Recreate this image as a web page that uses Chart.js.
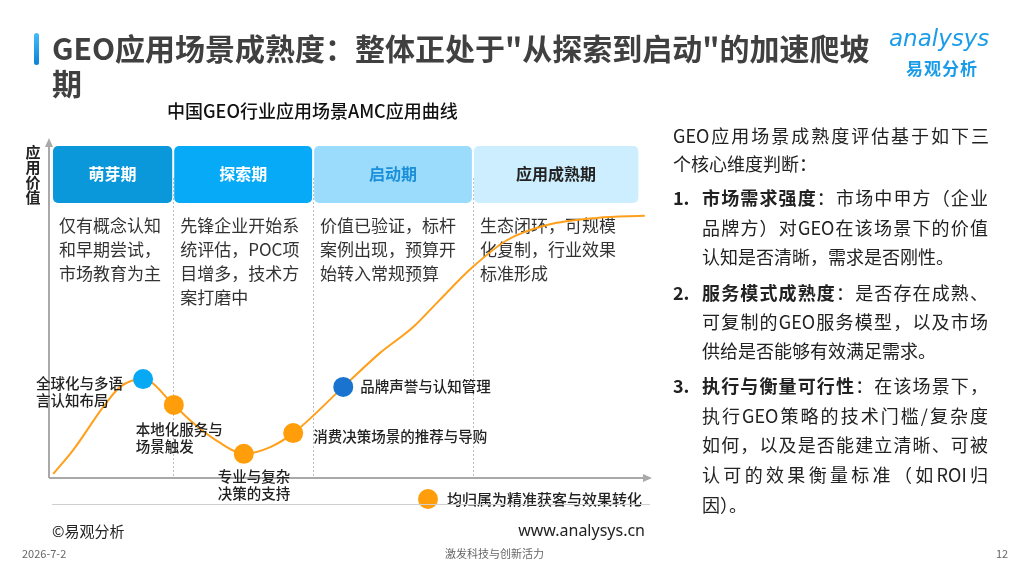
<!DOCTYPE html>
<html>
<head>
<meta charset="utf-8">
<script src="https://cdn.jsdelivr.net/npm/chart.js@4.4.1/dist/chart.umd.min.js"></script>
<style>
body { margin: 0; width: 1024px; height: 576px; overflow: hidden; background: #fff;
  font-family: "Noto Sans CJK SC", "Noto Sans", sans-serif; position: relative; color: #222; }
#wrap { position: absolute; left: 0; top: 0; width: 1024px; height: 576px; }
.abs { position: absolute; white-space: nowrap; }
#bar { left: 34px; top: 33px; width: 5px; height: 32px; border-radius: 3px;
  background: linear-gradient(#45bdf7, #0a82d8); }
#title { left: 52px; top: 30px; font-size: 30px; font-weight: bold; line-height: 35px; color: #404040; }
#sub { left: 167px; top: 97px; font-size: 18px; font-weight: 500; color: #111; }
#logo1 { left: 889px; top: 25px; font-size: 23px; font-style: italic; color: #1b9ce8; font-family: "DejaVu Sans", sans-serif; letter-spacing: 0px; }
#logo2 { left: 906px; top: 55px; font-size: 17px; font-weight: bold; color: #1b9ce8; letter-spacing: 1px; }
.para { position: absolute; font-size: 18px; color: #222; }
.ln { white-space: nowrap; text-align: justify; text-align-last: justify; }
.ln.last { text-align-last: left; }
.num { position: absolute; left: 0; top: 0; font-weight: bold; }
.body { position: absolute; left: 29px; top: 0; width: 286px; }
b { font-weight: bold; }
#rule { left: 52px; top: 504px; width: 598px; height: 0; border-top: 1.5px solid #cfcfcf; }
#copy { left: 52px; top: 520px; font-size: 15px; color: #222; }
#site { left: 445px; top: 519px; width: 200px; text-align: right; font-size: 16px; color: #222; font-family: "Noto Sans", sans-serif; }
.foot { top: 545px; font-size: 11px; color: #666; }
</style>
</head>
<body>
<div id="wrap"><canvas id="c"></canvas></div>

<div id="bar" class="abs"></div>
<div id="title" class="abs">GEO应用场景成熟度：整体正处于"从探索到启动"的加速爬坡<br>期</div>
<div id="logo1" class="abs">analysys</div>
<div id="logo2" class="abs">易观分析</div>
<div id="sub" class="abs">中国GEO行业应用场景AMC应用曲线</div>

<div class="para" style="left:673px;top:121px;width:316px;line-height:28px;">
  <div class="ln">GEO应用场景成熟度评估基于如下三</div>
  <div class="ln last">个核心维度判断：</div>
</div>
<div class="para" style="left:673px;top:183px;width:316px;line-height:29.5px;">
  <div class="num">1.</div>
  <div class="body">
    <div class="ln"><b>市场需求强度</b>：市场中甲方（企业</div>
    <div class="ln">品牌方）对GEO在该场景下的价值</div>
    <div class="ln last">认知是否清晰，需求是否刚性。</div>
  </div>
</div>
<div class="para" style="left:673px;top:278px;width:316px;line-height:29px;">
  <div class="num">2.</div>
  <div class="body">
    <div class="ln"><b>服务模式成熟度</b>：是否存在成熟、</div>
    <div class="ln">可复制的GEO服务模型，以及市场</div>
    <div class="ln last">供给是否能够有效满足需求。</div>
  </div>
</div>
<div class="para" style="left:673px;top:371px;width:316px;line-height:29.7px;">
  <div class="num">3.</div>
  <div class="body">
    <div class="ln"><b>执行与衡量可行性</b>：在该场景下，</div>
    <div class="ln">执行GEO策略的技术门槛/复杂度</div>
    <div class="ln">如何，以及是否能建立清晰、可被</div>
    <div class="ln">认可的效果衡量标准（如ROI归</div>
    <div class="ln last">因）。</div>
  </div>
</div>

<div id="rule" class="abs"></div>
<div id="copy" class="abs">©易观分析</div>
<div id="site" class="abs">www.analysys.cn</div>
<div class="abs foot" style="left:22px;">2026-7-2</div>
<div class="abs foot" style="left:445px;">激发科技与创新活力</div>
<div class="abs foot" style="left:996px;">12</div>

<script>
// AMC curve (x: time progress 0-100, y: application value 0-100)
var curveX = [0.7, 4.0, 9.0, 11.8, 15.6, 20.7, 23.9, 28.4, 32.3, 36.7, 40.5, 48.8, 54.9, 60.4, 64.8, 70.3, 76.0, 82.6, 90.9, 98.8]
var curveY = [1.2, 8.2, 20.9, 26.8, 29.1, 21.5, 16.2, 10.3, 7.1, 9.1, 13.2, 26.8, 36.8, 44.4, 52.4, 62.1, 70.0, 74.4, 76.5, 77.1]

// scenarios placed on the curve
var sceneNames = [['全球化与多语', '言认知布局'], ['本地化服务与', '场景触发'], ['专业与复杂', '决策的支持'],
                  ['消费决策场景的推荐与导购'], ['品牌声誉与认知管理']]
var sceneX = [15.6, 20.7, 32.3, 40.5, 48.8]
var sceneY = [29.1, 21.5, 7.1, 13.2, 26.8]
var sceneColors = ['#07a8f4', '#ff9d0a', '#ff9d0a', '#ff9d0a', '#1a74cf']

// stages
var phaseNames = ['萌芽期', '探索期', '启动期', '应用成熟期']
var phaseEdges = [0.5, 20.6, 43.8, 70.3, 97.9]
var phaseDesc = [
    ['仅有概念认知', '和早期尝试，', '市场教育为主'],
    ['先锋企业开始系', '统评估，POC项', '目增多，技术方', '案打磨中'],
    ['价值已验证，标杆', '案例出现，预算开', '始转入常规预算'],
    ['生态闭环，可规模', '化复制，行业效果', '标准形成']
]
var legendText = '均归属为精准获客与效果转化'

// drawing styles (not data)
var phaseFill = ['#0b98db', '#06aaf7', '#9bdcfd', '#cdeefe']
var phaseInk = ['#ffffff', '#ffffff', '#1b8fd8', '#222222']
var labelOffsets = [[-107, 4], [-38, 25], [-26, 23], [20, 3], [17, 0]]
var CJK = '"Noto Sans CJK SC", "Noto Sans", sans-serif'

var curve = curveX.map(function(v, i) { return {x: v, y: curveY[i]} })
var scenes = sceneX.map(function(v, i) { return {x: v, y: sceneY[i]} })

var stagePlugin = {
    id: 'stages',
    beforeDatasetsDraw: function(chart) {
        var ctx = chart.ctx, a = chart.chartArea, xs = chart.scales.x
        ctx.save()
        // dashed separators
        ctx.strokeStyle = '#bdbdbd'
        ctx.lineWidth = 1
        ctx.setLineDash([2, 2])
        for (var i = 1; i < phaseEdges.length - 1; i++) {
            var px = Math.round(xs.getPixelForValue(phaseEdges[i])) + 0.5
            ctx.beginPath(); ctx.moveTo(px, 178); ctx.lineTo(px, a.bottom - 2); ctx.stroke()
        }
        ctx.setLineDash([])
        // stage boxes
        for (var j = 0; j < phaseNames.length; j++) {
            var l = xs.getPixelForValue(phaseEdges[j]) + 1
            var r = xs.getPixelForValue(phaseEdges[j + 1]) - 1
            ctx.fillStyle = phaseFill[j]
            ctx.beginPath(); ctx.roundRect(l, 146, r - l, 57, 5); ctx.fill()
            ctx.fillStyle = phaseInk[j]
            ctx.font = 'bold 16px ' + CJK
            ctx.textAlign = 'center'; ctx.textBaseline = 'middle'
            ctx.fillText(phaseNames[j], (l + r) / 2, 174)
            ctx.fillStyle = '#333'
            ctx.font = '17px ' + CJK
            ctx.textAlign = 'left'
            phaseDesc[j].forEach(function(t, k) { ctx.fillText(t, l + 6, 226 + k * 24) })
        }
        // axes with arrows
        ctx.strokeStyle = '#a9a9a9'; ctx.fillStyle = '#a9a9a9'; ctx.lineWidth = 2
        ctx.beginPath(); ctx.moveTo(a.left, a.bottom); ctx.lineTo(a.left, a.top + 6); ctx.stroke()
        ctx.beginPath(); ctx.moveTo(a.left, a.bottom); ctx.lineTo(a.right - 6, a.bottom); ctx.stroke()
        ctx.beginPath(); ctx.moveTo(a.left, a.top); ctx.lineTo(a.left - 4, a.top + 9); ctx.lineTo(a.left + 4, a.top + 9); ctx.fill()
        ctx.beginPath(); ctx.moveTo(a.right, a.bottom); ctx.lineTo(a.right - 9, a.bottom - 4); ctx.lineTo(a.right - 9, a.bottom + 4); ctx.fill()
        // y-axis title, vertical
        ctx.fillStyle = '#222'
        ctx.font = 'bold 15px ' + CJK
        ctx.textAlign = 'center'; ctx.textBaseline = 'middle'
        '应用价值'.split('').forEach(function(ch, k) { ctx.fillText(ch, 33, 152 + k * 15) })
        ctx.restore()
    },
    afterDatasetsDraw: function(chart) {
        var ctx = chart.ctx, pts = chart.getDatasetMeta(0).data
        ctx.save()
        ctx.fillStyle = '#222'
        ctx.font = '500 14.5px ' + CJK
        ctx.textAlign = 'left'; ctx.textBaseline = 'middle'
        sceneNames.forEach(function(lines, i) {
            var p = pts[i], o = labelOffsets[i]
            lines.forEach(function(t, k) { ctx.fillText(t, p.x + o[0], p.y + o[1] + k * 17) })
        })
        // legend
        ctx.fillStyle = '#ff9d0a'
        ctx.beginPath(); ctx.arc(428, 499, 10, 0, Math.PI * 2); ctx.fill()
        ctx.fillStyle = '#222'
        ctx.font = '500 15px ' + CJK
        ctx.fillText(legendText, 447, 499)
        ctx.restore()
    }
}

var myChart = new Chart(document.getElementById('c'), {
    type: 'line',
    data: {
        datasets: [
            {
                label: 'scenes',
                data: scenes,
                showLine: false,
                pointRadius: 10,
                pointHoverRadius: 10,
                pointBackgroundColor: sceneColors,
                pointBorderWidth: 0,
                clip: false,
                order: 0
            },
            {
                label: 'AMC',
                data: curve,
                borderColor: '#ff9f1a',
                borderWidth: 2,
                pointRadius: 0,
                cubicInterpolationMode: 'monotone',
                fill: false,
                clip: false,
                order: 1
            }
        ]
    },
    options: {
        responsive: true,
        maintainAspectRatio: false,
        animation: false,
        events: [],
        layout: { padding: { left: 49, right: 372, top: 138, bottom: 98 } },
        scales: {
            x: { type: 'linear', min: 0, max: 100, display: false },
            y: { type: 'linear', min: 0, max: 100, display: false }
        },
        plugins: { legend: { display: false }, tooltip: { enabled: false } }
    },
    plugins: [stagePlugin]
})
</script>
</body>
</html>
